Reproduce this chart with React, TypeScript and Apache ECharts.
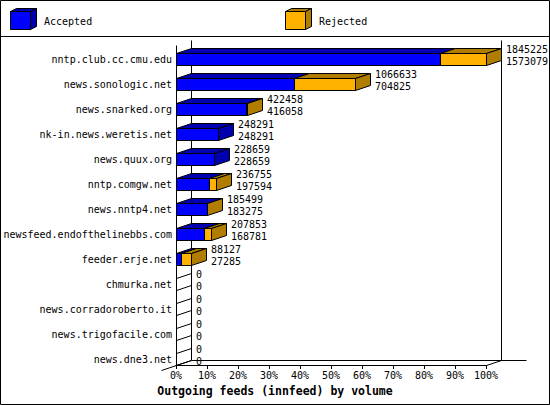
import { useEffect, useRef } from 'react';
import * as echarts from 'echarts';

// ─── Data ─────────────────────────────────────────────────────────────────────

const HOSTS = [
  'nntp.club.cc.cmu.edu',
  'news.sonologic.net',
  'news.snarked.org',
  'nk-in.news.weretis.net',
  'news.quux.org',
  'nntp.comgw.net',
  'news.nntp4.net',
  'newsfeed.endofthelinebbs.com',
  'feeder.erje.net',
  'chmurka.net',
  'news.corradoroberto.it',
  'news.trigofacile.com',
  'news.dne3.net',
];

// articles offered (upper label) and accepted (lower label)
const OFFERED = [1845225, 1066633, 422458, 248291, 228659, 236755, 185499, 207853, 88127, 0, 0, 0, 0];
const ACCEPTED = [1573079, 704825, 416058, 248291, 228659, 197594, 183275, 168781, 27285, 0, 0, 0, 0];

const SERIES_NAMES = ['Accepted', 'Rejected'];
const X_MIN = 0;
const X_MAX = 100;
const X_STEP = 10;
const X_TITLE = 'Outgoing feeds (innfeed) by volume';

// ─── Style ────────────────────────────────────────────────────────────────────

const FONT = '"DejaVu Sans Mono", monospace';
const BLUE = '#0000ff';
const BLUE_DARK = '#0000b0';
const ORANGE = '#ffb300';
const ORANGE_DARK = '#b07d00';
const DX = 15; // 3d depth
const DY = 5;
const HALF = 6; // half of bar front height

const px = (v: number) => Math.round(v) + 0.5;

function line(x1: number, y1: number, x2: number, y2: number) {
  return {
    type: 'line',
    shape: { x1, y1, x2, y2 },
    style: { stroke: '#000', lineWidth: 1 },
  };
}

function poly(points: number[][], fill: string) {
  return {
    type: 'polygon',
    shape: { points },
    style: { fill, stroke: '#000', lineWidth: 1 },
  };
}

function label(text: string, x: number, y: number) {
  return {
    type: 'text',
    style: {
      text,
      x,
      y,
      font: `10px ${FONT}`,
      fill: '#000',
      align: 'left',
      verticalAlign: 'middle',
      textAlign: 'left',
      textVerticalAlign: 'middle',
    },
  };
}

function cube(x: number, y: number, front: string, dark: string) {
  const w = 20;
  const h = 18;
  const dx = 6;
  const dy = 3;
  return [
    poly([[x, y], [x + w, y], [x + w + dx, y - dy], [x + dx, y - dy]], dark),
    poly([[x + w, y], [x + w + dx, y - dy], [x + w + dx, y + h - dy], [x + w, y + h]], dark),
    { type: 'rect', shape: { x, y, width: w, height: h }, style: { fill: front, stroke: '#000', lineWidth: 1 } },
  ];
}

const maxOffered = Math.max(...OFFERED);
const pct = (v: number) => (v / maxOffered) * 100;

function buildOption(): echarts.EChartsOption {
  const barData = HOSTS.map((_, i) => [i, pct(OFFERED[i]), pct(ACCEPTED[i]), OFFERED[i], ACCEPTED[i]]);

  return {
    animation: false,
    backgroundColor: '#fff',
    title: {
      text: X_TITLE,
      left: 'center',
      top: 385,
      padding: 0,
      textStyle: { fontFamily: FONT, fontSize: 11.5, fontWeight: 'bold', color: '#000' },
    },
    grid: { left: 176, right: 64, top: 46.5, bottom: 33.5 },
    xAxis: {
      type: 'value',
      min: X_MIN,
      max: X_MAX,
      interval: X_STEP,
      offset: -6.5,
      axisLine: { show: true, lineStyle: { color: '#000', width: 1 } },
      axisTick: { show: true, length: 4, lineStyle: { color: '#000' } },
      axisLabel: { color: '#000', fontFamily: FONT, fontSize: 10, margin: 5, formatter: '{value}%' },
      splitLine: { show: false },
    },
    yAxis: {
      type: 'category',
      data: HOSTS,
      inverse: true,
      axisLine: { show: false },
      axisTick: { show: false },
      axisLabel: { color: '#000', fontFamily: FONT, fontSize: 10, margin: 4 },
      splitLine: { show: false },
    },
    graphic: [
      {
        type: 'rect',
        shape: { x: 0.5, y: 0.5, width: 549, height: 404 },
        style: { fill: 'none', stroke: '#000', lineWidth: 1 },
      },
      line(0, 36.5, 550, 36.5),
      ...cube(10.5, 11.5, BLUE, BLUE_DARK),
      { type: 'text', style: { text: SERIES_NAMES[0], x: 44, y: 21, font: `10px ${FONT}`, fill: '#000', verticalAlign: 'middle', textVerticalAlign: 'middle' } },
      ...cube(285.5, 11.5, ORANGE, ORANGE_DARK),
      { type: 'text', style: { text: SERIES_NAMES[1], x: 319, y: 21, font: `10px ${FONT}`, fill: '#000', verticalAlign: 'middle', textVerticalAlign: 'middle' } },
    ] as any,
    series: [
      // 3d walls / floor
      {
        type: 'custom',
        z: 1,
        clip: false,
        silent: true,
        data: [[X_MIN, 0]],
        renderItem: (_params: any, api: any) => {
          const [xL0, yFirst] = api.coord([X_MIN, 0]);
          const xR0 = api.coord([X_MAX, 0])[0];
          const yLast = api.coord([X_MIN, HOSTS.length - 1])[1];
          const xL = px(xL0);
          const xR = px(xR0);
          const frontBottom = px(yLast + HALF);
          const backBottom = frontBottom - DY;
          const backTop = px(yFirst - HALF - 13);
          const frontTop = backTop + DY;
          return {
            type: 'group',
            children: [
              line(xL + DX, backTop, xL + DX, backBottom),
              line(xR + DX, backTop, xR + DX, backBottom),
              line(xL + DX, backBottom, xR + DX + 25, backBottom),
              line(xL, frontTop, xL, frontBottom),
              line(xR, frontBottom, xR + DX, backBottom),
              line(xL - DX, frontBottom + DY, xL + DX, backBottom),
            ],
          };
        },
      } as any,
      // stacked 3d bars
      {
        type: 'custom',
        name: SERIES_NAMES[0],
        z: 2,
        clip: false,
        data: barData,
        encode: { x: [1, 2], y: 0 },
        renderItem: (params: any, api: any) => {
          const i = params.dataIndex;
          const totPct = api.value(1);
          const accPct = api.value(2);
          const [x0r, yc] = api.coord([X_MIN, i]);
          const x0 = px(x0r);
          const xa = px(api.coord([accPct, i])[0]);
          const xt = px(api.coord([totPct, i])[0]);
          const top = px(yc - HALF);
          const bot = px(yc + HALF);
          const children: any[] = [];

          if (OFFERED[i] === 0) {
            children.push(line(x0, top, x0 + DX, top - DY));
            children.push(line(x0, bot, x0 + DX, bot - DY));
          } else {
            children.push(poly([[x0, top], [xa, top], [xa + DX, top - DY], [x0 + DX, top - DY]], BLUE_DARK));
            if (xt > xa) {
              children.push(poly([[xa, top], [xt, top], [xt + DX, top - DY], [xa + DX, top - DY]], ORANGE_DARK));
            }
            const sideColor = OFFERED[i] > ACCEPTED[i] ? ORANGE_DARK : BLUE_DARK;
            children.push(poly([[xt, top], [xt + DX, top - DY], [xt + DX, bot - DY], [xt, bot]], sideColor));
            children.push({
              type: 'rect',
              shape: { x: x0, y: top, width: xa - x0, height: bot - top },
              style: { fill: BLUE, stroke: '#000', lineWidth: 1 },
            });
            if (xt > xa) {
              children.push({
                type: 'rect',
                shape: { x: xa, y: top, width: xt - xa, height: bot - top },
                style: { fill: ORANGE, stroke: '#000', lineWidth: 1 },
              });
            }
          }

          const lx = Math.round(xt + DX + 4);
          children.push(label(String(OFFERED[i]), lx, yc - 10));
          children.push(label(String(ACCEPTED[i]), lx, yc + 2));
          return { type: 'group', children };
        },
      } as any,
    ],
  };
}

// ─── Component ────────────────────────────────────────────────────────────────

export default function App() {
  const containerRef = useRef<HTMLDivElement>(null);

  useEffect(() => {
    if (!containerRef.current) return;
    const chart = echarts.init(containerRef.current, null, { renderer: 'svg' });
    chart.setOption(buildOption());
    return () => chart.dispose();
  }, []);

  return (
    <div
      ref={containerRef}
      style={{ position: 'absolute', left: 0, top: 0, width: 550, height: 405, background: '#fff' }}
    />
  );
}
